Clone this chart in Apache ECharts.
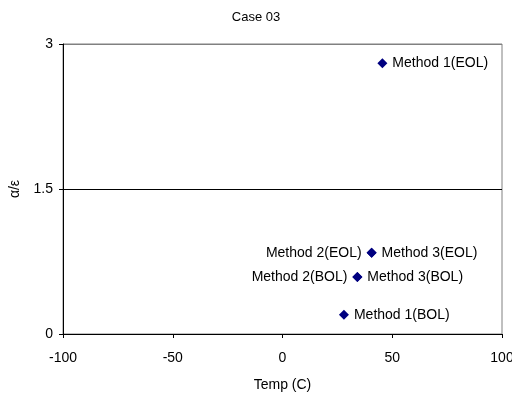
<!DOCTYPE html>
<html><head><meta charset="utf-8">
<script src="https://cdn.jsdelivr.net/npm/echarts@6/dist/echarts.min.js"></script>
<style>html,body{margin:0;padding:0;background:#fff}#c{width:512px;height:396px}</style>
</head><body><div id="c"></div>
<script>
const pointNames = ['Method 1(BOL)', 'Method 1(EOL)', 'Method 2(BOL)', 'Method 2(EOL)', 'Method 3(BOL)', 'Method 3(EOL)'];
const temps = [28.0, 45.5, 34.1, 40.6, 34.1, 40.6];
const ratios = [0.20, 2.80, 0.59, 0.84, 0.59, 0.84];
const xTicks = [-100, -50, 0, 50, 100];
const yTicks = [0, 1.5, 3];

const labelSide = {'Method 2(BOL)': 'left', 'Method 2(EOL)': 'left'};
const font = 'Liberation Sans, Arial, sans-serif';
const chart = echarts.init(document.getElementById('c'));
chart.setOption({
  animation: false,
  title: {text: 'Case 03', left: 'center', top: 6, textStyle: {fontFamily: font, fontSize: 13, fontWeight: 'normal', color: '#000'}},
  grid: {left: 63, right: 10, top: 44, bottom: 62, show: true, borderColor: '#808080', borderWidth: 1,
    containLabel: false, outerBoundsMode: 'none'},
  xAxis: {
    type: 'value', min: xTicks[0], max: xTicks[xTicks.length - 1], interval: 50,
    name: 'Temp (C)', nameLocation: 'middle', nameGap: 44,
    nameTextStyle: {fontFamily: font, fontSize: 14, color: '#000'},
    axisLine: {onZero: false, lineStyle: {color: '#000'}},
    axisTick: {show: true, length: 4, lineStyle: {color: '#000'}},
    axisLabel: {fontFamily: font, fontSize: 14, color: '#000', margin: 17},
    splitLine: {show: false}
  },
  yAxis: {
    type: 'value', min: yTicks[0], max: yTicks[yTicks.length - 1], interval: 1.5,
    name: 'α/ε', nameLocation: 'middle', nameGap: 40, nameRotate: 90,
    nameTextStyle: {fontFamily: font, fontSize: 14, color: '#000'},
    axisLine: {show: true, onZero: false, lineStyle: {color: '#000'}},
    axisTick: {show: true, length: 4, lineStyle: {color: '#000'}},
    axisLabel: {fontFamily: font, fontSize: 14, color: '#000', margin: 10},
    splitLine: {show: true, lineStyle: {color: ['#000', '#000', '#808080'], width: 1}}
  },
  series: [{
    type: 'scatter', symbol: 'diamond', symbolSize: 10,
    itemStyle: {color: '#000080', opacity: 1},
    data: pointNames.map((n, i) => ({
      name: n, value: [temps[i], ratios[i]],
      label: {show: true, position: labelSide[n] || 'right', formatter: n, distance: 5,
        fontFamily: font, fontSize: 14, color: '#000'}
    }))
  }]
});
</script></body></html>
